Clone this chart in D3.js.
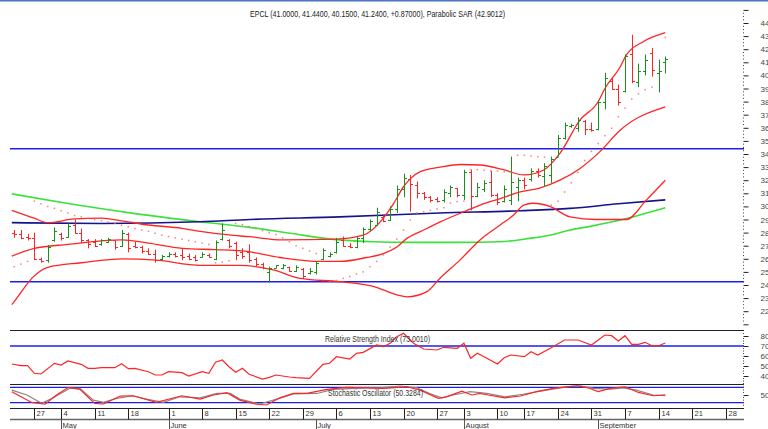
<!DOCTYPE html>
<html>
<head>
<meta charset="utf-8">
<script src="https://cdn.jsdelivr.net/npm/d3@7"></script>
<style>
  body { margin: 0; background: #fff; }
  svg { display: block; font-family: "Liberation Sans Narrow", "Liberation Sans", Arial, sans-serif; }
</style>
</head>
<body>
<svg id="chart" width="768" height="429"></svg>
<script>
  // ---- data (trading days 2020-04-22 .. 2020-09-15, index 0..97) ----
  const titleText = "EPCL (41.0000, 41.4400, 40.1500, 41.2400, +0.87000), Parabolic SAR (42.9012)";
  const rsiTitle = "Relative Strength Index (73.0010)";
  const stochTitle = "Stochastic Oscillator (50.3284)";

  const open = [28.0,27.9,27.7,27.6,26.0,25.9,27.4,27.9,27.7,28.6, 28.0,27.4,27.3,27.1,27.3,27.4,27.0,27.9,27.0,26.9,
                26.6,26.4,26.0,26.2,26.4,26.3,26.2,26.1,26.1,26.3, 26.0,27.5,27.4,27.2,26.5,26.5,26.0,25.6,25.0,25.3,
                25.3,25.4,25.1,25.2,24.9,25.0,26.0,26.2,26.5,27.4, 27.0,26.9,27.6,28.3,28.6,29.2,29.0,29.8,31.3,32.1,
                31.6,31.0,30.7,30.6,30.5,31.0,31.4,30.9,32.6,30.8, 31.3,31.9,30.9,30.4,30.5,31.5,32.0,32.1,32.7,32.3,
                32.4,33.8,35.2,36.1,36.0,36.5,35.9,35.9,38.0,39.6, 39.0,38.8,41.6,39.5,40.3,41.7,40.2,41.0];
  const high = [28.2,28.2,27.9,28.0,26.1,27.05,28.4,28.0,28.7,29.0, 28.3,27.5,27.5,27.5,27.6,27.4,28.2,28.0,27.3,27.0,
                26.8,26.7,26.3,26.5,26.5,26.8,26.4,26.3,26.5,26.4, 27.4,28.7,27.5,27.3,26.8,27.1,26.1,25.7,25.4,25.5,
                25.6,25.4,25.5,25.3,25.3,25.8,26.8,26.5,27.6,27.7, 27.2,27.7,28.4,29.0,29.9,29.3,30.0,31.6,32.5,32.4,
                31.9,31.1,30.8,30.7,31.3,31.6,31.4,32.8,32.8,31.8, 32.0,32.7,31.0,31.6,33.8,32.2,32.2,32.9,32.9,33.3,
                33.8,35.45,36.4,36.3,36.8,36.6,36.4,38.1,40.2,39.8, 39.3,41.6,43.1,40.9,41.6,42.1,41.2,41.44];
  const low = [27.6,27.5,27.4,25.9,25.7,25.7,27.3,27.4,27.6,27.9, 27.2,26.8,26.9,27.0,27.2,26.7,26.9,26.5,26.8,26.4,
               26.3,25.7,25.9,26.1,26.1,25.9,25.9,25.8,26.1,26.1, 25.9,27.4,26.8,25.9,26.0,25.7,25.4,25.2,24.2,25.3,
               25.2,25.0,25.0,24.5,24.8,24.8,25.9,26.1,26.4,26.9, 26.8,26.8,27.2,28.1,28.5,28.8,28.9,29.5,30.7,29.6,
               30.6,30.5,30.3,30.3,30.3,30.7,30.7,30.5,29.7,30.7, 31.1,30.7,30.1,30.3,30.1,30.4,31.3,31.9,32.2,31.5,
               31.8,33.8,35.1,36.0,35.7,35.45,35.7,35.8,37.4,38.9, 37.7,38.7,39.4,39.1,40.0,39.9,38.7,40.15];
  const close = [27.9,27.6,27.6,26.0,25.8,26.9,28.1,27.6,28.5,28.0, 27.4,27.1,27.0,27.4,27.5,26.9,28.0,26.8,26.9,26.6,
                 26.4,25.9,26.2,26.4,26.2,26.1,26.0,25.9,26.4,26.1, 27.3,28.2,27.0,26.3,26.2,25.9,25.6,25.3,25.3,25.5,
                 25.5,25.1,25.4,24.7,25.1,25.7,26.7,26.4,27.3,27.0, 26.9,27.6,28.3,28.9,29.6,28.9,29.8,31.3,32.2,31.7,
                 31.0,30.7,30.5,30.4,31.1,31.5,30.9,32.6,30.8,31.5, 31.8,30.9,30.3,31.3,31.9,32.0,31.6,32.7,32.4,33.1,
                 33.6,35.2,36.2,36.2,36.6,35.9,35.8,38.0,39.8,39.0, 38.0,41.5,39.6,40.3,41.2,40.4,40.37,41.24];

  const sar = [25.4,25.6,25.8,30.4,30.2,30.0,29.85,29.67,29.5,29.3, 29.2,29.1,29.0,28.9,28.8,28.7,28.55,28.45,28.3,28.2,
               28.1,27.95,27.8,27.7,27.6,27.5,27.4,27.3,27.2,27.1, 25.7,25.75,25.85,28.7,28.6,28.45,28.3,28.15,28.0,27.85,
               27.6,27.3,27.0,26.8,26.6,26.4,24.2,24.25,24.35,24.5, 24.65,24.84,25.0,25.4,25.8,26.3,26.9,27.5,28.2,28.96,
               29.5,29.6,29.7,29.8,29.9,30.25,30.36,30.4,32.8,32.8, 32.75,32.7,32.7,32.65,32.6,33.9,33.9,33.85,33.8,33.75,
               30.1,30.4,31.1,31.8,32.6,33.5,34.2,34.8,35.4,35.96, 36.85,37.5,38.2,38.6,38.9,39.1,43.08,42.9];

  // indicator lines as [day index, value]
  const bbUpper = [[-0.35,29.7],[3,29.1],[5,28.76],[9,29.04],[13,29.1],[16,28.9],[20,28.58],[25,28.33],[28,28.07],[32,27.82],
                   [35,27.69],[40,27.44],[48,27.5],[52,27.8],[54.5,28.8],[56.5,30.2],[58,31.5],[59,32.1],[60.5,32.65],
                   [63.5,33.0],[66.5,33.2],[69.4,33.16],[72.9,32.8],[75.9,32.4],[78.9,32.78],[81.3,34.05],[84.3,36.6],
                   [87,37.99],[88,39.0],[90.3,40.66],[91.2,41.56],[93.7,42.57],[97,43.26]];
  const bbMiddle = [[-0.35,26.2],[3,26.8],[8,27.1],[16,27.44],[20,27.2],[25,26.8],[30,26.7],[34,26.6],[39.6,26.1],[45.6,25.8],
                    [48.5,25.8],[52.5,26.1],[55,26.4],[57,26.9],[58.5,27.56],[60.5,28.07],[63.4,28.8],[66.4,29.47],
                    [69.4,30.1],[72.4,30.6],[75.4,31.1],[78.3,31.4],[81.3,32.0],[84.3,32.9],[87.3,34.2],[90.3,35.83],[97,37.6]];
  const bbLower = [[-0.35,22.5],[0.4,23.0],[2.8,24.6],[5,25.35],[10,25.7],[16.2,26.0],[21.2,25.9],[27.7,25.5],[33.6,25.5],
                   [38.6,25.15],[42.6,24.5],[48.5,24.25],[53.5,23.9],[57,23.25],[58.5,23.1],[61.5,23.5],[63.4,24.5],
                   [66.4,25.9],[69.4,27.44],[72.4,28.58],[74.4,29.34],[75.9,30.1],[77.3,30.24],[79.8,30.0],[82.8,29.2],
                   [86.8,29.0],[91.2,29.0],[94.2,30.5],[97,32.0]];
  const maGreen = [[-0.35,30.95],[7.8,30.24],[17.8,29.47],[27.7,28.83],[35.1,28.4],[41.1,27.95],[48.5,27.44],[53.5,27.3],
                   [58.5,27.25],[66,27.25],[72.4,27.3],[76.8,27.56],[79.8,27.8],[82.8,28.2],[86,28.5],[90.3,28.96],[97,29.9]];
  const maNavy = [[-0.35,28.76],[13,28.7],[27.7,28.83],[35.1,29.0],[48.5,29.2],[63.4,29.5],[75.4,29.67],[82.8,29.85],
                  [90,30.2],[97,30.5]];
  const levels = [34.4, 24.25];

  const rsi = [[-0.35,52],[1,50.3],[2,50.3],[3,42.7],[4,42],[6,52.7],[7,51],[8,55],[10,51.7],[11,47.7],[12,47.7],[13,48.3],
               [15,48.3],[16,52.3],[17,47.3],[18,47.7],[20,44.3],[21,41],[22,41],[23,44.3],[25,43.3],[26,40],[28,44.3],
               [29,42.7],[30,53.7],[31,56],[32,49.3],[33,43.7],[34,47.7],[35,41.7],[37,37],[38,38.7],[39,41],[41,39],
               [42,38.3],[44,37.7],[46,51.7],[47,52.7],[48,59.3],[50,57],[51,62.7],[52,63.7],[54,71],[55,69.3],[56,72.7],
               [57,79.3],[58,82.7],[59.5,72.7],[61,67],[63,66],[64,68.7],[66,67.7],[67,72.7],[68,57.7],[69,62.7],[70,59.3],
               [72,52],[73,58.3],[74,61],[76,59.3],[77,64.3],[78,61],[80,68.3],[82,76],[84,76],[86,71],[88,81],[89,80.3],
               [90,75],[91,80.3],[92,71.7],[93,71.7],[94,73.7],[95,70.3],[96,70.3],[97,73.0]];
  const stochK = [[-0.35,63],[2.6,21],[4.6,14],[6.3,50],[8.1,80],[9.8,72],[12,17.5],[13.3,15],[15.8,46],[17.7,47],[21.2,21],
                  [25,47],[27.7,34],[29.7,50],[31.7,59],[33.6,30],[36.1,14],[37.6,11],[39.6,39],[41.6,56],[43.6,56],[46.6,72],
                  [49.5,80],[52.5,78],[55,76],[58.5,82],[60.5,69],[63.2,37],[64.4,43],[66.7,65],[68.2,50],[69.4,56],[70.6,50],
                  [73.1,39],[75.4,46],[77.8,63],[80.3,76],[82.3,82],[83.8,86],[85.5,78],[87,63],[88.8,76],[91,82],[93,60],
                  [95.2,47],[97,50.3]];
  const stochD = [[-0.35,69],[1.9,50],[4.1,17.5],[6.1,43],[8.3,76],[9.8,76],[11.8,30],[13.3,21],[15.3,37],[17.7,47],[19.7,34],
                  [22.2,21],[24.7,43],[27.7,39],[30.2,56],[32.2,56],[33.6,34],[36.6,15],[39.1,34],[41.6,54],[45.1,56],[47.5,72],
                  [52.5,78],[54.5,78],[57.5,85],[60,78],[61.9,56],[63.7,39],[65.4,50],[67.9,63],[70.4,56],[73.1,43],[75.8,53],
                  [79.3,69],[82.3,82],[84.3,86],[86.3,76],[88.8,73],[90.7,78],[92.7,69],[95.2,50],[97,47]];

  const weekTickIdx = [3, 7, 12, 17, 23, 28, 33, 38, 43, 48, 53, 58, 63, 67, 72, 76, 81, 86, 91, 96, 101, 106];
  const weekTickLabels = ["27","4","11","18","1","8","15","22","29","6","13","20","27","3","10","17","24","31","7","14","21","28"];
  const monthTickIdx = [7, 23, 45, 67, 87];
  const monthLabels = ["May", "June", "July", "August", "September"];

  // ---- layout ----
  const svg = d3.select("#chart");
  const left = 10, right = 744;
  const x = d3.scaleLinear().domain([0, 97]).range([14.16, 665.3]);
  const yP = d3.scaleLinear().domain([22, 44]).range([311.2, 23]);
  const yR = d3.scaleLinear().domain([40, 80]).range([376, 336]);
  const yS = d3.scaleLinear().domain([20, 80]).range([402.7, 387.3]);

  const red = "#ff2424", green = "#1a8f1a";

  const defs = svg.append("defs");
  function clip(id, y0, h) {
    defs.append("clipPath").attr("id", id).append("rect")
      .attr("x", left).attr("y", y0).attr("width", right - left).attr("height", h);
  }
  clip("cp", 2, 328);
  clip("cr", 331, 53);
  clip("cs", 385, 23);

  svg.append("rect").attr("x", 0).attr("y", 0).attr("width", 768).attr("height", 1.5).attr("fill", "#4a74c4");

  // ---- price panel ----
  const gP = svg.append("g").attr("clip-path", "url(#cp)");

  gP.selectAll("line.level").data(levels).join("line")
    .attr("x1", left).attr("x2", right)
    .attr("y1", d => yP(d)).attr("y2", d => yP(d))
    .attr("stroke", "#1e1ef0").attr("stroke-width", 1.3);

  const lineP = d3.line().x(d => x(d[0])).y(d => yP(d[1])).curve(d3.curveMonotoneX);

  gP.append("path").datum(maGreen).attr("d", lineP)
    .attr("fill", "none").attr("stroke", "#3ae23a").attr("stroke-width", 1.7);
  gP.append("path").datum(maNavy).attr("d", lineP)
    .attr("fill", "none").attr("stroke", "#14148c").attr("stroke-width", 1.6);
  [bbUpper, bbMiddle, bbLower].forEach(s => {
    gP.append("path").datum(s).attr("d", lineP)
      .attr("fill", "none").attr("stroke", red).attr("stroke-width", 1.3);
  });

  const bar = gP.selectAll("g.bar").data(d3.range(close.length)).join("g")
    .attr("stroke", i => close[i] >= open[i] ? green : red)
    .attr("stroke-width", 1);
  bar.append("line")
    .attr("x1", i => Math.round(x(i)) + 0.5).attr("x2", i => Math.round(x(i)) + 0.5)
    .attr("y1", i => yP(high[i])).attr("y2", i => yP(low[i]));
  bar.append("line")
    .attr("x1", i => Math.round(x(i)) - 2).attr("x2", i => Math.round(x(i)) + 0.5)
    .attr("y1", i => Math.round(yP(open[i])) + 0.5).attr("y2", i => Math.round(yP(open[i])) + 0.5);
  bar.append("line")
    .attr("x1", i => Math.round(x(i)) + 0.5).attr("x2", i => Math.round(x(i)) + 3)
    .attr("y1", i => Math.round(yP(close[i])) + 0.5).attr("y2", i => Math.round(yP(close[i])) + 0.5);

  gP.selectAll("rect.sar").data(sar).join("rect")
    .attr("x", (d, i) => x(i) - 0.75).attr("y", d => yP(d) - 0.75)
    .attr("width", 1.5).attr("height", 1.5)
    .attr("fill", "#ff6a6a").attr("opacity", 0.85);

  svg.append("text").attr("x", 250).attr("y", 17)
    .attr("font-size", 8.5).attr("fill", "#222")
    .attr("textLength", 255).attr("lengthAdjust", "spacingAndGlyphs")
    .text(titleText);

  // ---- RSI panel ----
  const gR = svg.append("g").attr("clip-path", "url(#cr)");
  gR.append("line").attr("x1", left).attr("x2", right).attr("y1", yR(70)).attr("y2", yR(70))
    .attr("stroke", "#1e1ef0").attr("stroke-width", 1.3);
  gR.append("path").datum(rsi)
    .attr("d", d3.line().x(d => x(d[0])).y(d => yR(d[1])))
    .attr("fill", "none").attr("stroke", red).attr("stroke-width", 1.2);
  svg.append("text").attr("x", 325).attr("y", 342)
    .attr("font-size", 8.5).attr("fill", "#333")
    .attr("textLength", 105).attr("lengthAdjust", "spacingAndGlyphs")
    .text(rsiTitle);

  // ---- Stochastic panel ----
  const gS = svg.append("g").attr("clip-path", "url(#cs)");
  gS.selectAll("line.lvl").data([80, 20]).join("line")
    .attr("x1", left).attr("x2", right).attr("y1", d => yS(d)).attr("y2", d => yS(d))
    .attr("stroke", "#1e1ef0").attr("stroke-width", 1.3);
  const lineS = d3.line().x(d => x(d[0])).y(d => yS(d[1]));
  gS.append("path").datum(stochD).attr("d", lineS)
    .attr("fill", "none").attr("stroke", "#888").attr("stroke-width", 1.2);
  gS.append("path").datum(stochK).attr("d", lineS)
    .attr("fill", "none").attr("stroke", red).attr("stroke-width", 1.2);
  svg.append("text").attr("x", 328).attr("y", 396)
    .attr("font-size", 8.5).attr("fill", "#333")
    .attr("textLength", 95).attr("lengthAdjust", "spacingAndGlyphs")
    .text(stochTitle);

  // panel separators
  svg.selectAll("line.sep").data([330.5, 384.5]).join("line")
    .attr("x1", left).attr("x2", right).attr("y1", d => d).attr("y2", d => d)
    .attr("stroke", "#222").attr("stroke-width", 1);

  // ---- right axes ----
  function rightAxis(scale, majors, minors, labelled) {
    const g = svg.append("g").attr("transform", "translate(743.5,0)")
      .call(d3.axisRight(scale).tickValues(majors).tickSize(5).tickPadding(12)
        .tickFormat(d => labelled.includes(d) ? d : ""));
    g.attr("font-size", 8).attr("font-family", null);
    g.select(".domain").remove();
    g.selectAll("line").attr("stroke", "#222");
    g.selectAll("text").attr("fill", "#444");
    g.selectAll("rect.minor").data(minors).join("rect")
      .attr("x", -0.5).attr("y", d => scale(d) - 0.5).attr("width", 1).attr("height", 1).attr("fill", "#444");
  }
  rightAxis(yP, d3.range(21, 46), d3.range(21, 45, 0.25).filter(v => v % 1 !== 0), d3.range(22, 45));
  rightAxis(yR, [40, 50, 60, 70, 80], d3.range(32.5, 85, 2.5).filter(v => v % 10 !== 0), [40, 50, 60, 70, 80]);
  rightAxis(yS, [50], d3.range(10, 95, 10).filter(v => v !== 50), [50]);

  // ---- date axis ----
  const gD = svg.append("g");
  gD.append("line").attr("x1", left).attr("x2", right).attr("y1", 408.5).attr("y2", 408.5)
    .attr("stroke", "#222");
  gD.append("line").attr("x1", left).attr("x2", right).attr("y1", 419.5).attr("y2", 419.5)
    .attr("stroke", "#666").attr("stroke-width", 1.5);
  gD.selectAll("line.wk").data(weekTickIdx).join("line")
    .attr("x1", d => Math.round(x(d)) + 0.5).attr("x2", d => Math.round(x(d)) + 0.5)
    .attr("y1", 408.5).attr("y2", 419.5).attr("stroke", "#222");
  gD.selectAll("text.wk").data(weekTickIdx).join("text")
    .attr("x", d => Math.round(x(d)) + 2.5).attr("y", 416)
    .attr("font-size", 7.5).attr("fill", "#333")
    .text((d, i) => weekTickLabels[i]);
  gD.selectAll("line.mo").data(monthTickIdx).join("line")
    .attr("x1", d => Math.round(x(d)) + 0.5).attr("x2", d => Math.round(x(d)) + 0.5)
    .attr("y1", 419.5).attr("y2", 429).attr("stroke", "#555");
  gD.selectAll("text.mo").data(monthTickIdx).join("text")
    .attr("x", d => Math.round(x(d)) + 1.5).attr("y", 428)
    .attr("font-size", 7.5).attr("fill", "#333")
    .text((d, i) => monthLabels[i]);
</script>
</body>
</html>
